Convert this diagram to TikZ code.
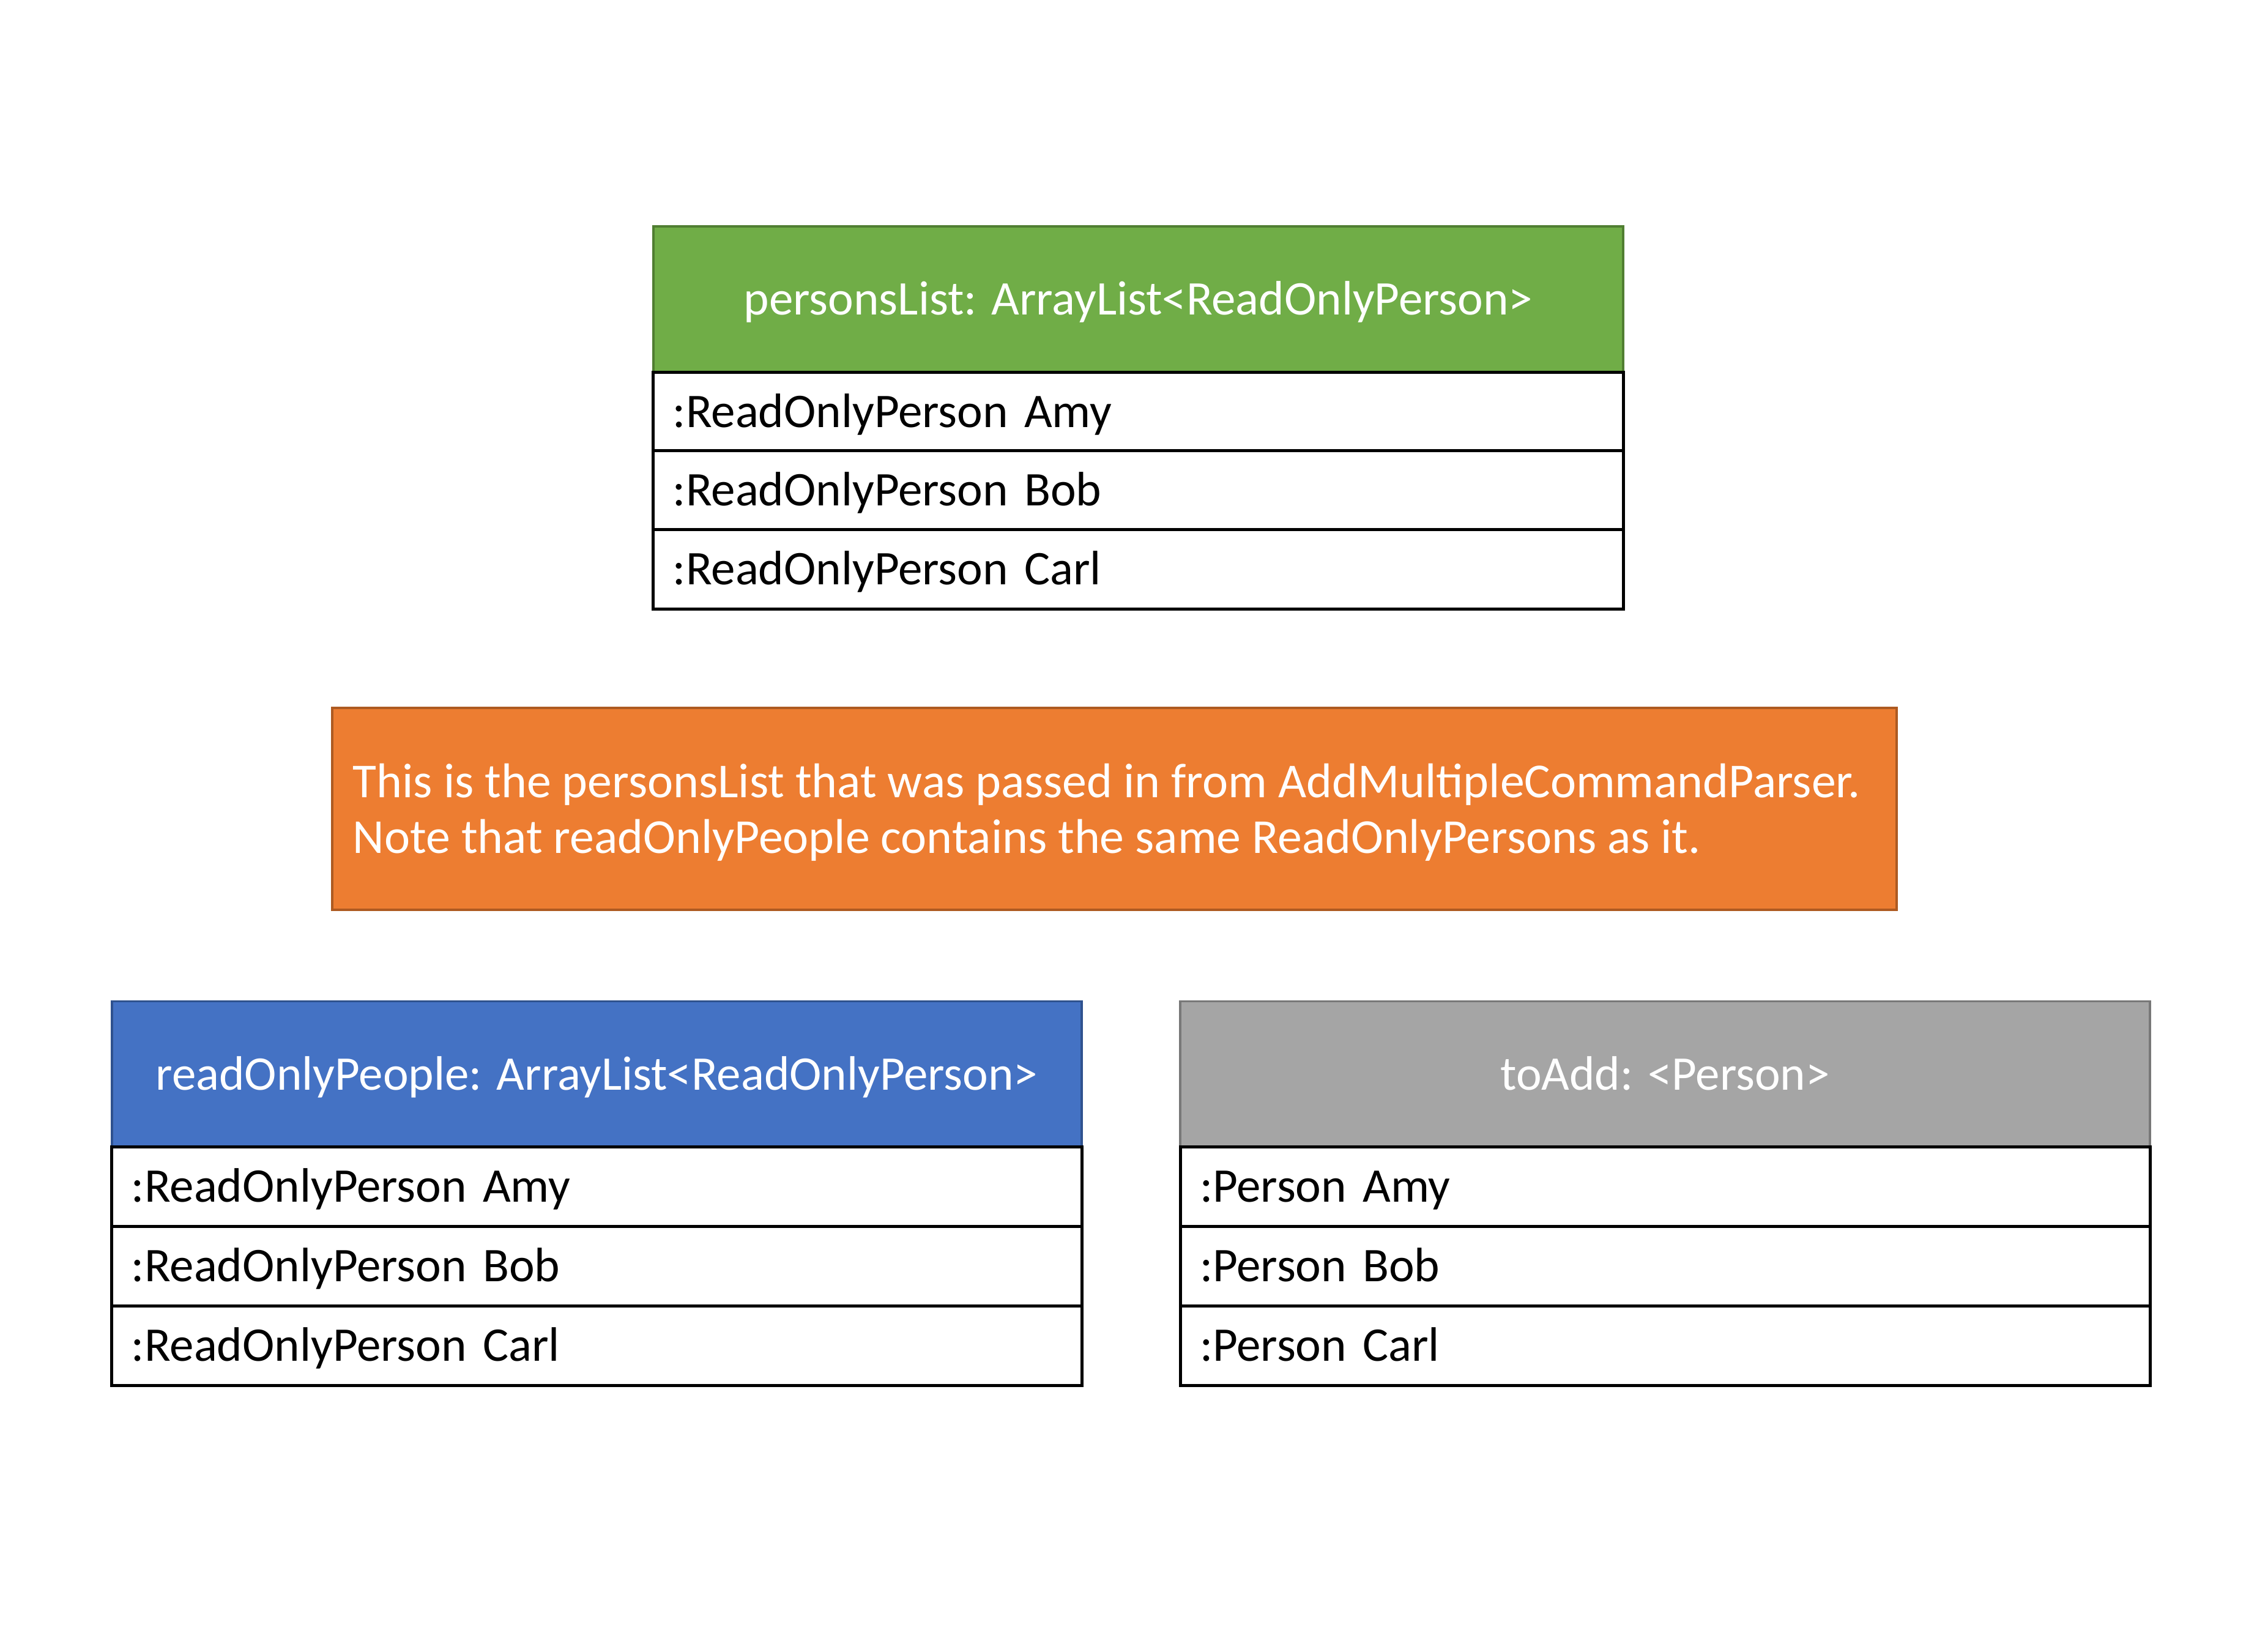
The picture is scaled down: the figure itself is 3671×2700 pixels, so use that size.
\documentclass[tikz,border=0pt]{standalone}
\usepackage{fontspec}
\setmainfont{Carlito}
\definecolor{hgreen}{HTML}{70AD47}
\definecolor{hgreenb}{HTML}{507E32}
\definecolor{horange}{HTML}{ED7D31}
\definecolor{horangeb}{HTML}{AE5A21}
\definecolor{hblue}{HTML}{4472C4}
\definecolor{hblueb}{HTML}{2F528F}
\definecolor{hgray}{HTML}{A5A5A5}
\definecolor{hgrayb}{HTML}{787878}
\begin{document}
\begin{tikzpicture}[x=0.2pt,y=-0.2pt,
  every node/.style={font=\fontsize{15.8pt}{19pt}\selectfont},
  hdr/.style={rectangle, line width=0.7pt, minimum width=317pt, minimum height=47.8pt,
    text=white, inner sep=0pt, text height=1.07em, text depth=0.05em},
  rowbox/.style={rectangle, draw=black, line width=1pt, fill=white, minimum width=317pt,
    minimum height=25.9pt, inner xsep=6.4pt, inner ysep=0pt, text width=317pt-12.8pt,
    align=left, text height=1.07em, text depth=0.05em},
  notebox/.style={rectangle, fill=horange, draw=horangeb, line width=0.8pt,
    minimum width=511.4pt, minimum height=66pt, inner sep=0pt},
  notetxt/.style={text=white, font=\fontsize{15.95pt}{18.2pt}\selectfont, align=left,
    inner sep=0pt, anchor=west}
]
\useasboundingbox (0,0) rectangle (3671,2700);

% top list
\node[hdr, fill=hgreen, draw=hgreenb] (ph) at (1860.5,489.5) {personsList: ArrayList<ReadOnlyPerson>};
\node[rowbox] (p1) at (1860.5,673) {:ReadOnlyPerson Amy};
\node[rowbox] (p2) at (1860.5,801.5) {:ReadOnlyPerson Bob};
\node[rowbox] (p3) at (1860.5,930.5) {:ReadOnlyPerson Carl};

% note
\node[notebox] (note) at (1821.5,1322) {};
\node[notetxt] (notetext) at ([xshift=7pt,yshift=-1.2pt]note.west)
  {\mbox{This is the personsList that was passed in from AddMultipleCommandParser.}\\
   \mbox{Note that readOnlyPeople contains the same ReadOnlyPersons as it.}};

% readOnlyPeople
\node[hdr, fill=hblue, draw=hblueb] (rh) at (975.5,1756) {readOnlyPeople: ArrayList<ReadOnlyPerson>};
\node[rowbox] (r1) at (975.5,1939.5) {:ReadOnlyPerson Amy};
\node[rowbox] (r2) at (975.5,2069.5) {:ReadOnlyPerson Bob};
\node[rowbox] (r3) at (975.5,2199.5) {:ReadOnlyPerson Carl};

% toAdd
\node[hdr, fill=hgray, draw=hgrayb] (th) at (2721.5,1756) {toAdd: <Person>};
\node[rowbox] (t1) at (2721.5,1939.5) {:Person Amy};
\node[rowbox] (t2) at (2721.5,2069.5) {:Person Bob};
\node[rowbox] (t3) at (2721.5,2199.5) {:Person Carl};
\end{tikzpicture}
\end{document}
